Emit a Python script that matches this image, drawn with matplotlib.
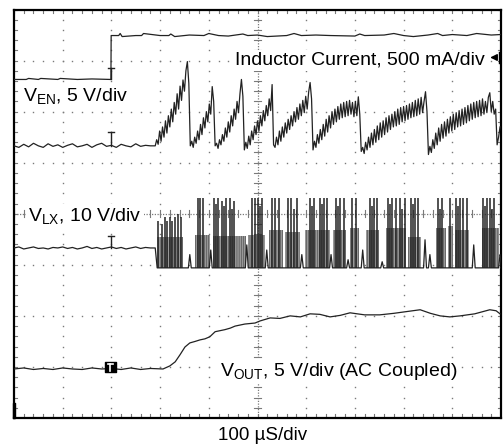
import numpy as np
import matplotlib
matplotlib.use('Agg')
import matplotlib.pyplot as plt

plt.rcParams['font.family'] = ['Liberation Sans', 'DejaVu Sans']
plt.rcParams['mathtext.fontset'] = 'custom'
plt.rcParams['mathtext.rm'] = 'Liberation Sans'
plt.rcParams['mathtext.it'] = 'Liberation Sans:italic'
plt.rcParams['hatch.linewidth'] = 1.0

# ---------------- data (time in µs, amplitude in screen divisions from bottom) ----------------
ven_t = [0, 25, 30, 50, 55, 90, 95, 130, 160, 199, 199.5, 215, 218, 222, 250, 262, 266, 300, 318, 322,
         330, 360, 390, 400, 420, 440, 470, 480, 500, 520, 560, 575, 590, 620, 650, 700, 710, 720, 760,
         780, 800, 820, 850, 870, 880, 900, 930, 950, 980, 1000]
ven_v = [6.63, 6.63, 6.65, 6.63, 6.65, 6.63, 6.65, 6.63, 6.64, 6.63, 7.49, 7.49, 7.53, 7.47, 7.49, 7.49,
         7.53, 7.49, 7.49, 7.52, 7.47, 7.50, 7.49, 7.53, 7.49, 7.48, 7.52, 7.49, 7.50, 7.47, 7.49, 7.53,
         7.49, 7.50, 7.49, 7.48, 7.52, 7.49, 7.50, 7.53, 7.49, 7.47, 7.50, 7.53, 7.49, 7.51, 7.49, 7.53,
         7.50, 7.51]

# inductor current: quiet part sampled every 10 µs from 0, switching part every 3 µs from 290
il_pre = [5.33, 5.30, 5.36, 5.31, 5.38, 5.33, 5.30, 5.37, 5.32, 5.35, 5.30, 5.34, 5.37, 5.31, 5.33,
          5.36, 5.30, 5.35, 5.38, 5.32, 5.34, 5.30, 5.36, 5.33, 5.31, 5.37, 5.32, 5.34, 5.33]
il_vals = [5.33, 5.45, 5.36, 5.62, 5.42, 5.70, 5.50, 5.82, 5.58, 5.92, 5.70, 6.05, 5.80, 6.18, 5.95, 6.35,
           6.05, 6.50, 6.22, 6.62, 6.40, 6.80, 6.98, 6.55,
           5.33, 5.42, 5.30, 5.50, 5.38, 5.62, 5.45, 5.75, 5.55, 5.88, 5.68, 6.00, 5.80, 6.15, 5.95, 6.49, 6.20,
           5.33, 5.38, 5.28, 5.45, 5.35, 5.55, 5.42, 5.68, 5.50, 5.80, 5.60, 5.92, 5.72, 6.05, 5.85, 6.20,
           5.98, 6.35, 6.63, 6.30,
           5.25, 5.40, 5.28, 5.52, 5.35, 5.62, 5.45, 5.72, 5.55, 5.82, 5.62, 5.92, 5.72, 6.02, 5.82, 6.12,
           5.92, 6.25, 6.02, 6.53,
           5.35, 5.30, 5.50, 5.35, 5.62, 5.42, 5.70, 5.50, 5.78, 5.58, 5.85, 5.65, 5.92, 5.72, 6.00, 5.80,
           6.08, 5.85, 6.15, 5.92, 6.22, 5.98, 6.30, 6.05, 6.38, 6.57, 6.25,
           5.25, 5.42, 5.30, 5.55, 5.38, 5.65, 5.45, 5.75, 5.52, 5.85, 5.60, 5.92, 5.68, 6.00, 5.75, 6.05,
           5.80, 6.10, 5.85, 6.15, 5.88, 6.18, 5.90, 6.20, 5.92, 6.22, 5.95, 6.18, 5.90, 6.20, 5.92, 6.29, 5.95,
           5.22, 5.30, 5.18, 5.40, 5.25, 5.50, 5.30, 5.58, 5.35, 5.65, 5.40, 5.72, 5.45, 5.78, 5.50, 5.82,
           5.55, 5.88, 5.60, 5.92, 5.65, 5.95, 5.70, 6.00, 5.72, 6.05, 5.75, 6.08, 5.80, 6.10, 5.82, 6.12,
           5.85, 6.15, 5.88, 6.18, 5.90, 6.22, 5.92, 6.25, 5.95, 6.28, 5.98, 6.20, 6.39, 6.00,
           5.16, 5.32, 5.20, 5.45, 5.28, 5.58, 5.35, 5.68, 5.42, 5.75, 5.48, 5.80, 5.52, 5.85, 5.58, 5.90,
           5.62, 5.95, 5.65, 5.98, 5.70, 6.02, 5.72, 6.05, 5.75, 6.08, 5.78, 6.12, 5.82, 6.15, 5.85, 6.18,
           5.88, 6.20, 5.90, 6.22, 5.92, 6.25, 5.95, 6.20, 5.98, 6.28, 6.37, 6.00, 6.20, 5.95, 6.05, 5.35,
           5.50, 5.70]

# switch node: quiet part every 10 µs, then bursts / pulses
vlx_pre = [3.33, 3.35, 3.31, 3.33, 3.35, 3.32, 3.33, 3.31, 3.34, 3.33, 3.35, 3.32, 3.34, 3.31, 3.33,
           3.36, 3.32, 3.34, 3.31, 3.33, 3.35, 3.32, 3.34, 3.31, 3.33, 3.35, 3.32, 3.34, 3.33, 3.33]
vlx_low = 2.94
vlx_burst_start = [294, 372, 409, 480, 524, 556, 597, 655, 690, 723, 764, 809, 866, 891, 905, 960]
vlx_burst_end = [347, 402, 476, 515, 552, 587, 649, 682, 708, 749, 805, 836, 887, 901, 934, 996]
vlx_burst_top = [3.55, 3.59, 3.57, 3.59, 3.69, 3.65, 3.69, 3.69, 3.73, 3.69, 3.73, 3.55, 3.73, 3.76, 3.69, 3.73]
vlx_pulse_t = [296, 303, 310, 315, 320, 325, 330, 337, 343,
               378, 382, 388,
               411, 415, 419, 427, 431, 435, 443, 447, 452,
               489, 495, 501, 505, 509,
               530, 536, 544,
               562, 569, 575, 581,
               608, 612, 616, 628, 632, 636, 643,
               661, 665, 669, 677,
               694, 702,
               731, 735, 739, 745,
               768, 772, 776, 784, 792, 797, 803,
               815, 819, 823, 829,
               870, 874, 879,
               895,
               907, 911, 916, 922, 930,
               963, 967, 971, 977, 981, 985]
vlx_pulse_top = [3.85, 3.80, 3.94, 3.85, 3.94, 3.85, 3.94, 4.00, 3.94,
                 4.31, 4.31, 4.31,
                 4.31, 4.20, 4.31, 4.25, 4.15, 4.31, 4.31, 4.10, 4.25,
                 4.31, 4.31, 4.31, 4.15, 4.31,
                 4.31, 4.31, 4.31,
                 4.31, 4.31, 4.10, 4.31,
                 4.31, 4.15, 4.31, 4.31, 4.20, 4.31, 4.31,
                 4.31, 4.15, 4.31, 4.31,
                 4.31, 4.31,
                 4.31, 4.15, 4.31, 4.31,
                 4.31, 4.20, 4.31, 4.31, 4.31, 4.10, 4.31,
                 4.31, 4.20, 4.31, 4.31,
                 4.31, 4.10, 4.31,
                 4.31,
                 4.31, 4.15, 4.31, 4.31, 4.31,
                 4.31, 4.15, 4.31, 4.31, 4.10, 4.31]
vlx_bump_t = [361, 404, 478, 519, 591, 651, 686, 716, 756, 844, 854, 944, 998]
vlx_bump_top = [3.20, 3.29, 3.39, 3.29, 3.20, 3.20, 3.10, 3.29, 3.06, 3.49, 3.20, 3.39, 3.20]

vout_t = [0, 20, 40, 60, 80, 100, 120, 140, 160, 180, 200, 220, 240, 260, 280, 306, 320, 331, 341, 351,
          361, 372, 382, 392, 402, 413, 423, 433, 444, 454, 464, 474, 495, 505, 526, 546, 567, 588, 608,
          628, 649, 670, 690, 720, 751, 780, 803, 834, 855, 875, 895, 916, 946, 977, 990, 998]
vout_v = [0.96, 0.98, 0.95, 0.97, 0.95, 0.98, 0.96, 0.95, 0.98, 0.96, 0.97, 0.95, 0.98, 0.95, 0.97, 0.96,
          1.02, 1.10, 1.24, 1.39, 1.47, 1.50, 1.53, 1.55, 1.59, 1.69, 1.71, 1.73, 1.76, 1.80, 1.82, 1.84,
          1.86, 1.90, 1.96, 1.95, 2.00, 1.98, 2.04, 2.03, 1.98, 2.01, 2.06, 2.02, 2.02, 2.05, 2.08, 2.12,
          2.05, 2.00, 1.98, 2.00, 2.04, 2.12, 2.10, 2.04]

trig_t = 199

# ---------------- figure ----------------
W, H = 503, 445
fig = plt.figure(figsize=(W / 100, H / 100), dpi=100)
ax = fig.add_axes([14 / W, (H - 418) / H, 487 / W, 408.5 / H])
ax.set_xlim(0, 1000)
ax.set_ylim(0, 8)
ax.set_xticks([])
ax.set_yticks([])
for s in ax.spines.values():
    s.set_linewidth(1.6)
    s.set_color('black')

gc = '#7a7a7a'
minor_x = np.arange(0, 1001, 20)
minor_y = np.arange(0, 8.001, 0.2)
# grid dots
for k in range(1, 10):
    if k == 5:
        continue
    ax.plot(np.full(minor_y.size, k * 100), minor_y, ls='none', marker='s', ms=1.0, mew=0, color=gc, zorder=1)
for k in range(1, 8):
    if k == 4:
        continue
    ax.plot(minor_x, np.full(minor_x.size, k), ls='none', marker='s', ms=1.0, mew=0, color=gc, zorder=1)
# center lines with ticks
ax.plot([500, 500], [0, 8], ls=(0, (1, 1.2)), lw=0.9, color=gc, zorder=1)
ax.plot([0, 1000], [4, 4], ls=(0, (1, 1.2)), lw=0.9, color=gc, zorder=1)
for yv in minor_y:
    ax.plot([493, 507], [yv, yv], lw=0.8, color=gc, zorder=1)
for xv in minor_x:
    ax.plot([xv, xv], [3.93, 4.07], lw=0.8, color=gc, zorder=1)
# edge ticks
for yv in minor_y:
    ax.plot([0, 7], [yv, yv], lw=0.8, color=gc, zorder=1)
    ax.plot([993, 1000], [yv, yv], lw=0.8, color=gc, zorder=1)
for xv in minor_x:
    ax.plot([xv, xv], [0, 0.07], lw=0.8, color=gc, zorder=1)
    ax.plot([xv, xv], [7.93, 8], lw=0.8, color=gc, zorder=1)

tc = '#222222'
# EN trace
ax.plot(ven_t, ven_v, color=tc, lw=0.9, zorder=4)
# inductor current
il_t = list(np.arange(len(il_pre)) * 10) + list(290 + 3 * np.arange(len(il_vals)))
ax.plot(il_t, il_pre + il_vals, color=tc, lw=0.9, zorder=4)

# switch node
for s, e, top in zip(vlx_burst_start, vlx_burst_end, vlx_burst_top):
    ax.fill_between([s, e], vlx_low, top, facecolor='#cfcfcf', edgecolor='#6a6a6a', hatch='|' * 9,
                    lw=0, zorder=3)
lx = list(np.arange(len(vlx_pre)) * 10)
ly = list(vlx_pre)
lx += [294]
ly += [vlx_low]
for bt, bv in zip(vlx_bump_t, vlx_bump_top):
    lx += [bt - 3, bt, bt + 3]
    ly += [vlx_low, bv, vlx_low]
lx += [1000]
ly += [vlx_low]
ax.plot(lx, ly, color=tc, lw=0.9, zorder=4)
ax.vlines(vlx_pulse_t, vlx_low, vlx_pulse_top, color=tc, lw=1.1, zorder=4)

# output voltage
ax.plot(vout_t, vout_v, color=tc, lw=0.9, zorder=4)

# trigger markers
for base, top in [(6.63, 6.86), (5.33, 5.60), (3.33, 3.57)]:
    ax.plot([trig_t, trig_t], [base, top], color=tc, lw=1.0, zorder=5)
    ax.plot([trig_t - 7, trig_t + 7], [top, top], color=tc, lw=1.0, zorder=5)
ax.fill_between([trig_t - 12, trig_t + 10], 0.90, 1.10, color='black', zorder=5)
ax.plot([trig_t - 1, trig_t - 1], [0.92, 1.06], color='white', lw=1.2, zorder=6)
ax.plot([trig_t - 7, trig_t + 5], [1.06, 1.06], color='white', lw=1.2, zorder=6)
# ground marker bottom-left and arrow right
ax.fill_between([-3, 3], 0, 0.3, color='black', zorder=6, clip_on=False)
ax.annotate('', xy=(972, 7.06), xytext=(996, 7.06),
            arrowprops=dict(arrowstyle='-|>', color='black', lw=1.0, mutation_scale=10), zorder=6)
ax.plot([996, 996], [6.96, 7.16], color='black', lw=1.0, zorder=6)

bb = dict(facecolor='white', edgecolor='none', pad=1.5)
fs = 14
ax.text(18, 6.2, r'$\mathregular{V_{EN}}$, 5 V/div', fontsize=fs, va='baseline', ha='left', zorder=2, bbox=bb)
ax.text(454, 6.92, 'Inductor Current, 500 mA/div', fontsize=fs, va='baseline', ha='left', zorder=2, bbox=bb)
ax.text(29, 3.86, r'$\mathregular{V_{LX}}$, 10 V/div', fontsize=fs, va='baseline', ha='left', zorder=2, bbox=bb)
ax.text(423, 0.82, r'$\mathregular{V_{OUT}}$, 5 V/div (AC Coupled)', fontsize=fs, va='baseline', ha='left',
        zorder=2, bbox=bb)
fig.text(263 / W, (H - 440) / H, '100 µS/div', fontsize=13.5, ha='center', va='baseline')

fig.savefig('out.png', dpi=100)
